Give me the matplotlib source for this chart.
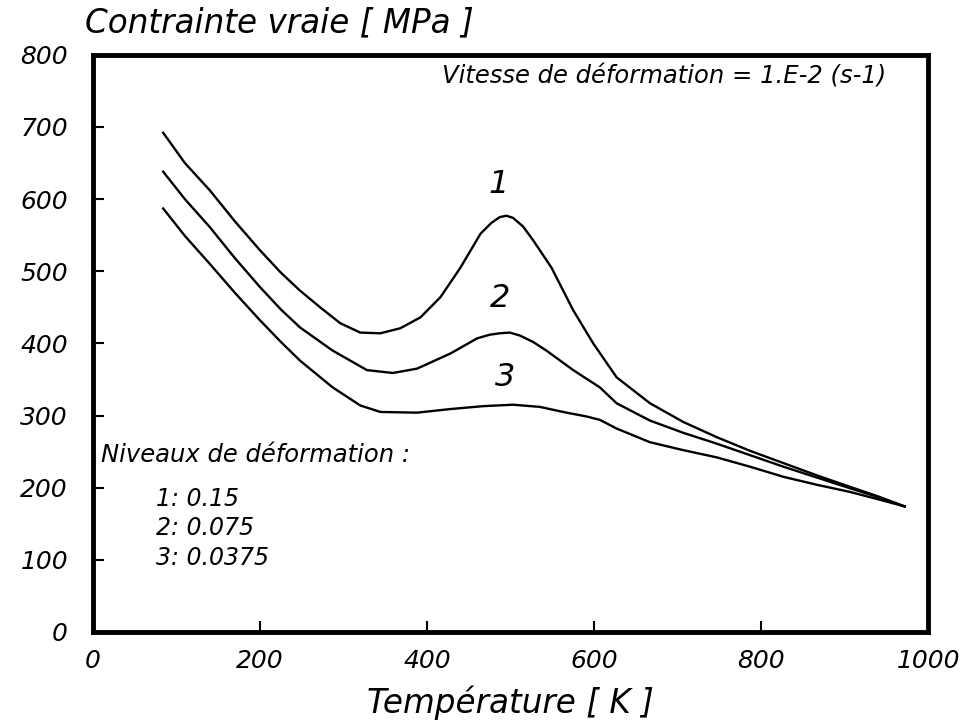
import matplotlib.pyplot as plt

# temperature (K) and true stress (MPa)
temp_1 = [84, 110, 140, 170, 200, 225, 248, 272, 296, 320, 344, 368, 392, 416, 440, 464, 477, 487, 495,
          503, 515, 527, 549, 575, 599, 627, 667, 707, 747, 787, 827, 867, 907, 940, 972]
stress_1 = [692, 650, 612, 569, 529, 498, 473, 450, 428, 415, 414, 421, 436, 464, 505, 552, 567, 575, 577,
            574, 562, 543, 505, 446, 400, 353, 317, 291, 270, 251, 234, 217, 201, 188, 174]

temp_2 = [84, 110, 140, 170, 200, 225, 248, 287, 328, 359, 388, 428, 460, 475, 487, 499, 511, 527,
          543, 575, 607, 627, 667, 707, 747, 787, 827, 867, 907, 940, 972]
stress_2 = [638, 600, 561, 518, 478, 447, 422, 390, 363, 359, 365, 386, 407, 412, 414, 415, 411, 402,
            390, 363, 339, 317, 293, 276, 261, 245, 229, 214, 199, 187, 174]

temp_3 = [84, 110, 140, 170, 200, 225, 248, 287, 320, 344, 388, 428, 467, 503, 535, 567, 590, 607,
          627, 667, 707, 747, 787, 827, 867, 907, 940, 972]
stress_3 = [587, 549, 510, 470, 432, 402, 376, 339, 314, 305, 304, 309, 313, 315, 312, 304, 299, 294,
            282, 263, 252, 242, 229, 215, 204, 194, 184, 174]

curve_labels = ["1", "2", "3"]
label_pos = [(486, 620), (488, 462), (493, 353)]
levels = ["1: 0.15", "2: 0.075", "3: 0.0375"]
level_y = [185, 144, 103]

plt.rcParams['font.family'] = 'DejaVu Sans'
plt.rcParams['font.style'] = 'italic'

fig = plt.figure(figsize=(9.71, 7.26), dpi=100)
ax = fig.add_axes([0.0958, 0.1295, 0.86, 0.795])

for t, s in [(temp_1, stress_1), (temp_2, stress_2), (temp_3, stress_3)]:
    ax.plot(t, s, color="black", linewidth=1.7, solid_joinstyle="round")

for lab, (x, y) in zip(curve_labels, label_pos):
    ax.text(x, y, lab, fontsize=23, ha="center", va="center")

ax.text(0.95, 0.963, "Vitesse de déformation = 1.E-2 (s-1)", transform=ax.transAxes,
        fontsize=17.5, ha="right", va="center")
ax.text(10, 245, "Niveaux de déformation :", fontsize=17.5, va="center")
for lev, y in zip(levels, level_y):
    ax.text(75, y, lev, fontsize=17, va="center")

ax.set_xlim(0, 1000)
ax.set_ylim(0, 800)
ax.set_xticks([0, 200, 400, 600, 800, 1000])
ax.set_yticks([0, 100, 200, 300, 400, 500, 600, 700, 800])
ax.tick_params(direction="in", length=8, width=1.5, labelsize=18)
ax.tick_params(axis="y", pad=18)
ax.tick_params(axis="x", pad=12)
for lab in ax.get_xticklabels() + ax.get_yticklabels():
    lab.set_fontstyle("italic")
for sp in ax.spines.values():
    sp.set_linewidth(3.5)

fig.text(0.088, 0.968, "Contrainte vraie [ MPa ]", fontsize=23.5, ha="left", va="center")
ax.set_xlabel("Température [ K ]", fontsize=23.5, labelpad=9)

fig.savefig("out.png", dpi=100)
